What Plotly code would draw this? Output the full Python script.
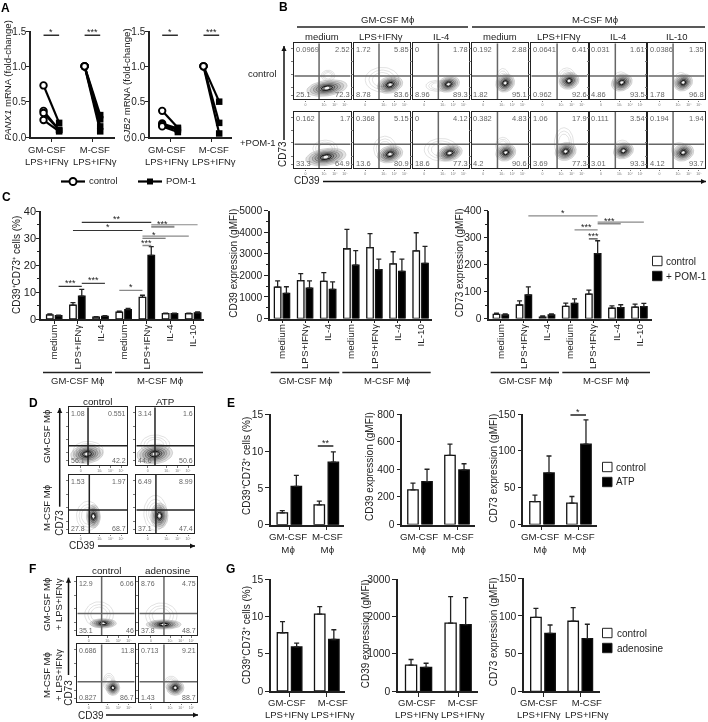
import numpy as np
import plotly.graph_objects as go

W, H = 708, 722
FONT = "Liberation Sans"
INK = "#222222"
GREY = "#8a8a8a"

# ---------- Panel A ----------
a_groups = ["GM-CSF<br>LPS+IFNγ", "M-CSF<br>LPS+IFNγ"]
a1_gm_control = [0.73, 0.37, 0.34, 0.24]
a1_gm_pom = [0.20, 0.10, 0.10, 0.08]
a1_m_control = [1.0, 1.0, 1.0, 1.0]
a1_m_pom = [0.31, 0.25, 0.15, 0.08]
a2_gm_control = [0.37, 0.19, 0.17, 0.15]
a2_gm_pom = [0.13, 0.12, 0.10, 0.07]
a2_m_control = [1.0, 1.0, 1.0]
a2_m_pom = [0.50, 0.20, 0.05]

# ---------- Panel C ----------
c_cats = ["medium", "LPS+IFNγ", "IL-4", "medium", "LPS+IFNγ", "IL-4", "IL-10"]
c1_ctrl = [1.5, 5.1, 0.7, 2.5, 8.0, 2.0, 2.0]
c1_ctrl_top = [1.9, 6.1, 0.9, 2.9, 8.8, 2.2, 2.2]
c1_pom = [1.2, 8.5, 1.0, 3.5, 23.6, 2.0, 2.3]
c1_pom_top = [1.4, 11.0, 1.2, 3.9, 26.8, 2.2, 2.6]
c2_ctrl = [1450, 1750, 1720, 3230, 3280, 2530, 3130]
c2_ctrl_top = [1740, 2080, 2120, 4130, 3930, 3090, 3970]
c2_pom = [1160, 1400, 1350, 2470, 2260, 2180, 2550]
c2_pom_top = [1470, 1740, 1700, 3140, 2750, 2750, 3340]
c3_ctrl = [15, 50, 5, 45, 90, 38, 42]
c3_ctrl_top = [20, 65, 10, 57, 105, 47, 53]
c3_pom = [13, 87, 13, 56, 240, 40, 44]
c3_pom_top = [17, 117, 17, 73, 288, 51, 56]

# ---------- Panel E ----------
e1_ctrl, e1_ctrl_top = [1.6, 2.7], [1.9, 3.2]
e1_atp, e1_atp_top = [5.2, 8.5], [6.7, 9.9]
e2_ctrl, e2_ctrl_top = [250, 500], [300, 582]
e2_atp, e2_atp_top = [310, 395], [400, 440]
e3_ctrl, e3_ctrl_top = [31, 29], [40, 38]
e3_atp, e3_atp_top = [70, 109], [93, 142]

# ---------- Panel G ----------
g1_ctrl, g1_ctrl_top = [7.8, 10.3], [9.3, 11.3]
g1_ade, g1_ade_top = [5.9, 6.9], [6.4, 8.2]
g2_ctrl, g2_ctrl_top = [700, 1820], [850, 2530]
g2_ade, g2_ade_top = [640, 1780], [750, 2500]
g3_ctrl, g3_ctrl_top = [98, 93], [110, 111]
g3_ade, g3_ade_top = [77, 70], [88, 89]

# ---------- Flow plots: quadrant percentages (UL, UR, LL, LR) ----------
b_quads = [
    ["0.0969", "2.52", "25.1", "72.3"], ["1.72", "5.85", "8.78", "83.6"], ["0", "1.78", "8.96", "89.3"],
    ["0.192", "2.88", "1.82", "95.1"], ["0.0641", "6.41", "0.962", "92.6"], ["0.031", "1.61", "4.86", "93.5"],
    ["0.0386", "1.35", "1.78", "96.8"],
    ["0.162", "1.7", "33.3", "64.9"], ["0.368", "5.15", "13.6", "80.9"], ["0", "4.12", "18.6", "77.3"],
    ["0.382", "4.83", "4.2", "90.6"], ["1.06", "17.9", "3.69", "77.3"], ["0.111", "3.54", "3.01", "93.3"],
    ["0.194", "1.94", "4.12", "93.7"],
]
d_quads = [["1.08", "0.551", "56.1", "42.2"], ["3.14", "1.6", "44.6", "50.6"],
           ["1.53", "1.97", "27.8", "68.7"], ["6.49", "8.99", "37.1", "47.4"]]
f_quads = [["12.9", "6.06", "35.1", "46"], ["8.76", "4.75", "37.8", "48.7"],
           ["0.686", "11.8", "0.827", "86.7"], ["0.713", "9.21", "1.43", "88.7"]]

# Population outlines: (cx, cy, rx, ry, tilt) core, then faint outer population
b_core = [(.58, .20, .36, .14, 8), (.64, .26, .23, .15, 12), (.63, .27, .20, .14, 12), (.59, .29, .17, .16, 15),
          (.67, .33, .18, .15, 10), (.57, .30, .19, .15, 15), (.62, .30, .17, .15, 15),
          (.56, .20, .36, .15, 8), (.64, .25, .23, .15, 12), (.65, .27, .23, .14, 12), (.60, .28, .18, .15, 12),
          (.61, .30, .19, .16, 12), (.60, .31, .18, .14, 12), (.62, .28, .19, .15, 12)]
b_faint = [(.60, .42, .12, .10), (.50, .35, .30, .22), (.45, .24, .22, .10), (.55, .35, .12, .20),
           (.63, .40, .15, .16), (.55, .33, .14, .16), (.58, .33, .12, .15),
           (.55, .35, .22, .15), (.55, .35, .20, .22), (.50, .33, .30, .20), (.55, .40, .13, .15),
           (.58, .45, .17, .27), (.58, .36, .14, .14), (.55, .33, .14, .13)]
d_core = [(.31, .19, .28, .16, 5), (.32, .19, .31, .17, 5), (.42, .29, .12, .20, 0), (.40, .30, .15, .22, 0)]
d_faint = [(.33, .25, .26, .16), (.33, .35, .25, .17), (.33, .30, .20, .25), (.33, .35, .20, .30)]
f_core = [(.45, .20, .23, .08, 0), (.42, .18, .30, .08, 0), (.62, .25, .12, .13, 0), (.62, .25, .15, .13, 0)]
f_faint = [(.38, .35, .25, .22), (.38, .33, .27, .22), (.55, .35, .10, .15), (.55, .33, .12, .12)]

fig = go.Figure()
layout = {}
annotations, shapes = [], []
axis_count = [0]


def px(x):
    return x / W


def py(y):
    return 1 - y / H


def T(text, x, y, size=10, color=INK, angle=0, anchor="center", bold=False):
    annotations.append(dict(text=f"<b>{text}</b>" if bold else text, x=px(x), y=py(y), xref="paper", yref="paper",
                            showarrow=False, xanchor=anchor, yanchor="middle", textangle=angle,
                            font=dict(family=FONT, size=size, color=color), borderpad=0, borderwidth=0))


def L(x0, y0, x1, y1, color=INK, width=1.5):
    shapes.append(dict(type="line", xref="paper", yref="paper", x0=px(x0), y0=py(y0), x1=px(x1), y1=py(y1),
                       line=dict(color=color, width=width)))


def arrow(x0, y0, x1, y1):
    L(x0, y0, x1, y1, "#111111", 1.5)
    dx, dy = np.sign(x1 - x0), np.sign(y1 - y0)
    bx, by = x1 - dx * 5, y1 - dy * 5
    pts = [(x1, y1), (bx + dy * 2.6, by + dx * 2.6), (bx - dy * 2.6, by - dx * 2.6)]
    path = "M " + " L ".join(f"{px(a):.5f} {py(b):.5f}" for a, b in pts) + " Z"
    shapes.append(dict(type="path", xref="paper", yref="paper", path=path, fillcolor="#111111", line=dict(width=0)))


def new_axes(x0, x1, ytop, ybot, xrange, yrange, xopts=None, yopts=None):
    axis_count[0] += 1
    i = axis_count[0]
    s = "" if i == 1 else str(i)
    xa = dict(domain=[px(x0), px(x1)], range=xrange, anchor=f"y{s}", showgrid=False, zeroline=False, automargin=False,
              showline=True, linecolor=INK, linewidth=1.5, ticks="outside", ticklen=4, tickwidth=1.3,
              tickcolor=INK, tickfont=dict(family=FONT, size=10, color=INK), fixedrange=True)
    ya = dict(domain=[py(ybot), py(ytop)], range=yrange, anchor=f"x{s}", showgrid=False, zeroline=False, automargin=False,
              showline=True, linecolor=INK, linewidth=1.5, ticks="outside", ticklen=4, tickwidth=1.3,
              tickcolor=INK, tickfont=dict(family=FONT, size=10.3, color=INK), fixedrange=True)
    xa.update(xopts or {})
    ya.update(yopts or {})
    layout[f"xaxis{s}"] = xa
    layout[f"yaxis{s}"] = ya
    return f"x{s}", f"y{s}"


def sig(xa, ya, x0, x1, y, label, color=INK, width=1.4):
    fig.add_trace(go.Scatter(x=[x0, x1], y=[y, y], xaxis=xa, yaxis=ya, mode="lines", cliponaxis=False,
                             line=dict(color=color, width=width), showlegend=False, hoverinfo="skip"))
    if label:
        annotations.append(dict(text=label, x=(x0 + x1) / 2, y=y, xref=xa, yref=ya, showarrow=False,
                                xanchor="center", yanchor="middle", yshift=3,
                                font=dict(family=FONT, size=9, color=INK)))


def bars(xa, ya, groups, ctrl, ctrl_top, other, other_top):
    x = list(range(len(groups)))
    for vals, tops, fill in ((ctrl, ctrl_top, "white"), (other, other_top, "black")):
        fig.add_trace(go.Bar(x=x, y=vals, xaxis=xa, yaxis=ya, marker=dict(color=fill, line=dict(color="#111111", width=1.3)),
                             error_y=dict(type="data", symmetric=False, array=np.subtract(tops, vals).tolist(),
                                          arrayminus=[0] * len(x), color="#222222", thickness=1.3, width=2.5),
                             showlegend=False, hoverinfo="skip"))


def legend_keys(x, y1, y2, lab1, lab2, textx):
    for y, fill, lab in ((y1, "white", lab1), (y2, "black", lab2)):
        shapes.append(dict(type="rect", xref="paper", yref="paper", x0=px(x), x1=px(x + 9.5), y0=py(y - 4.7), y1=py(y + 4.7),
                           fillcolor=fill, line=dict(color="#222222", width=1)))
        T(lab, textx, y, size=10, anchor="left")


def flow(left, right, top, bottom, gx, gy, quad, core, faint, gate_color, size=7.5):
    small = dict(family=FONT, size=3.5, color="#777777")
    xa, ya = new_axes(left, right, top, bottom, [0, 1], [0, 1],
                      dict(mirror=True, linewidth=1.4, ticklen=1.5, tickwidth=.7, tickcolor="#777777",
                           tickvals=[.20, .53, .72, .90], ticktext=["0", "10³", "10⁴", "10⁵"], tickfont=small),
                      dict(mirror=True, linewidth=1.4, ticklen=2, tickwidth=.7, tickcolor="#777777",
                           tickvals=[.07, .21, .45, .67, .91], showticklabels=False))
    t = np.linspace(0, 2 * np.pi, 48)

    def ring(cx, cy, rx, ry, tilt, color, width, fill=None):
        a = np.radians(tilt)
        ex, ey = rx * np.cos(t), ry * np.sin(t)
        fig.add_trace(go.Scatter(x=cx + ex * np.cos(a) - ey * np.sin(a) * .6, y=cy + ex * np.sin(a) + ey * np.cos(a),
                                 xaxis=xa, yaxis=ya, mode="lines", line=dict(color=color, width=width),
                                 fill="toself" if fill else None, fillcolor=fill,
                                 showlegend=False, hoverinfo="skip"))

    fx, fy, frx, fry = faint
    for k in (1, .78, .58):
        ring(fx, fy, frx * k, fry * k, 0, "#c4c4c4", .5)
    cx, cy, rx, ry, tilt = core
    for k, c, w in ((1, "#b0b0b0", .5), (.84, "#999999", .5), (.68, "#808080", .6),
                    (.54, "#606060", .7), (.40, "#404040", .8), (.28, "#111111", 1.0)):
        ring(cx, cy, rx * k, ry * k, tilt, c, w, "rgba(0,0,0,0.11)")
    ring(cx, cy, rx * .1, ry * .1, tilt, "white", 1.0, "white")
    for xs, ys in (([gx, gx], [0, 1]), ([0, 1], [gy, gy])):
        fig.add_trace(go.Scatter(x=xs, y=ys, xaxis=xa, yaxis=ya, mode="lines", line=dict(color=gate_color, width=1.5),
                                 showlegend=False, hoverinfo="skip"))
    grey = "#666666"
    T(quad[0], left + 1.5, top + 6.5, size, grey, anchor="left")
    T(quad[1], right - 1, top + 6.5, size, grey, anchor="right")
    T(quad[2], left + 1.5, bottom - 5, size, grey, anchor="left")
    T(quad[3], right - 1, bottom - 5, size, grey, anchor="right")


# ---------- A ----------
def paired(xa, ya, series_ctrl, series_pom, group):
    for c, p in zip(series_ctrl, series_pom):
        fig.add_trace(go.Scatter(x=[group - .19, group + .19], y=[c, p], xaxis=xa, yaxis=ya, mode="lines",
                                 line=dict(color="black", width=2.2), showlegend=False, hoverinfo="skip", cliponaxis=False))
    fig.add_trace(go.Scatter(x=[group + .19] * len(series_pom), y=series_pom, xaxis=xa, yaxis=ya, mode="markers",
                             marker=dict(symbol="square", size=6.5, color="black"), showlegend=False, hoverinfo="skip", cliponaxis=False))
    fig.add_trace(go.Scatter(x=[group - .19] * len(series_ctrl), y=series_ctrl, xaxis=xa, yaxis=ya, mode="markers",
                             marker=dict(symbol="circle", size=6.5, color="white", line=dict(color="black", width=1.9)),
                             showlegend=False, hoverinfo="skip", cliponaxis=False))


a_xopts = dict(tickvals=[0, 1], showticklabels=False, ticklen=3)
a_yopts = dict(tickvals=[0, .5, 1, 1.5], ticktext=["0.0", "0.5", "1.0", "1.5"], ticklen=3, ticklabelstandoff=-2,
               tickfont=dict(family=FONT, size=10, color=INK))
xa, ya = new_axes(31, 115, 31, 137, [-.495, 1.55], [0, 1.5], a_xopts, a_yopts)
paired(xa, ya, a1_gm_control, a1_gm_pom, 0)
paired(xa, ya, a1_m_control, a1_m_pom, 1)
sig(xa, ya, -.19, .19, 1.44, "*")
sig(xa, ya, .81, 1.19, 1.44, "***")
xa, ya = new_axes(150, 232, 31, 137, [-.485, 1.5], [0, 1.5], a_xopts, a_yopts)
paired(xa, ya, a2_gm_control, a2_gm_pom, 0)
paired(xa, ya, a2_m_control, a2_m_pom, 1)
sig(xa, ya, -.19, .19, 1.44, "*")
sig(xa, ya, .81, 1.19, 1.44, "***")
T("<i>PANX1</i> mRNA (fold-change)", 6.5, 81, 9.6, angle=-90)
T("<i>GJB2</i> mRNA (fold-change)", 127, 85, 9.6, angle=-90)
for x, lab in zip((46.5, 94.7), a_groups):
    T(lab, x, 155, 9.5)
for x, lab in zip((166.7, 214.3), a_groups):
    T(lab, x, 155, 9.5)
L(61, 181.5, 85, 181.5, "black", 2.2)
shapes.append(dict(type="circle", xref="paper", yref="paper", x0=px(69.5), x1=px(76.5), y0=py(178), y1=py(185),
                   fillcolor="white", line=dict(color="black", width=1.9)))
T("control", 89, 181, 9.5, anchor="left")
L(138, 181.5, 162, 181.5, "black", 2.2)
shapes.append(dict(type="rect", xref="paper", yref="paper", x0=px(147), x1=px(153), y0=py(178.5), y1=py(184.5),
                   fillcolor="black", line=dict(color="black", width=0)))
T("POM-1", 166, 181, 9.5, anchor="left")

# ---------- B ----------
b_lefts = [294.3, 354, 413, 472, 531.3, 589.7, 648.3]
b_gx = [.44, .444, .45, .452, .458, .455, .44]
b_rows = [(43.3, 99.3, .417), (112, 168.3, .426)]
for r, (top, bottom, gy) in enumerate(b_rows):
    for c, left in enumerate(b_lefts):
        n = r * 7 + c
        flow(left, left + 56.3, top, bottom, b_gx[c], gy, b_quads[n], b_core[n], b_faint[n], "#666666")
T("GM-CSF Mϕ", 387, 19.5, 9.5)
T("M-CSF Mϕ", 595, 19.5, 9.5)
L(297, 27, 468, 27)
L(472, 27, 705, 27)
for x, lab in zip((322, 381, 441, 500, 559, 618, 676.5),
                  ["medium", "LPS+IFNγ", "IL-4", "medium", "LPS+IFNγ", "IL-4", "IL-10"]):
    T(lab, x, 36.5, 9.5)
T("control", 262, 73.5, 9.5)
T("+POM-1", 258, 142, 9.5)
T("CD73", 283, 154, 10, angle=-90)
arrow(284, 140, 284, 46)
T("CD39", 306.5, 180.5, 10)
arrow(323, 181.5, 706, 181.5)

# ---------- C ----------
c_xopts = dict(tickvals=list(range(7)), ticktext=c_cats, tickangle=-90, ticklen=3, ticklabelstandoff=-3,
               tickfont=dict(family=FONT, size=9.8, color=INK))
xa, ya = new_axes(41, 204.3, 211, 319, [-.57, 6.48], [0, 40],
                  c_xopts, dict(tickvals=[0, 10, 20, 30, 40], ticklen=3, ticklabelstandoff=-2,
                                minor=dict(dtick=5, ticks="outside", ticklen=2, tickwidth=1, tickcolor=INK),
                                tickfont=dict(family=FONT, size=11, color=INK)))
bars(xa, ya, c_cats, c1_ctrl, c1_ctrl_top, c1_pom, c1_pom_top)
sig(xa, ya, 1.19, 4.19, 35.8, "**", "#333333", 1.1)
sig(xa, ya, .81, 3.81, 32.8, "*", "#333333", 1.1)
sig(xa, ya, 4.19, 6.19, 34.9, "", GREY, 1.1)
sig(xa, ya, 4.19, 5.19, 34.2, "***", GREY, 2)
sig(xa, ya, 3.81, 5.81, 30.7, "", GREY, 1.1)
sig(xa, ya, 3.81, 4.81, 29.9, "*", "#555555", 1.2)
sig(xa, ya, 3.81, 4.19, 27.2, "***", GREY, 1.6)
sig(xa, ya, 2.81, 3.81, 10.6, "*", GREY, 1.2)
sig(xa, ya, .19, 1.19, 12.1, "***", "#333333", 1.2)
sig(xa, ya, 1.19, 2.19, 13.2, "***", "#444444", 1.2)
T("CD39⁺CD73⁺ cells (%)", 17, 265, 10, angle=-90)

xa, ya = new_axes(270, 431.7, 210.5, 318.5, [-.52, 6.48], [0, 5000],
                  c_xopts, dict(tickvals=[0, 1000, 2000, 3000, 4000, 5000], minor=dict(dtick=500, ticks="outside", ticklen=2.5, tickwidth=1, tickcolor=INK)))
bars(xa, ya, c_cats, c2_ctrl, c2_ctrl_top, c2_pom, c2_pom_top)
T("CD39 expression (gMFI)", 232.7, 263, 10, angle=-90)

xa, ya = new_axes(489.3, 651.7, 210.5, 318.5, [-.5, 6.53], [0, 400],
                  c_xopts, dict(tickvals=[0, 100, 200, 300, 400], minor=dict(dtick=50, ticks="outside", ticklen=2.5, tickwidth=1, tickcolor=INK)))
bars(xa, ya, c_cats, c3_ctrl, c3_ctrl_top, c3_pom, c3_pom_top)
sig(xa, ya, 1.19, 4.19, 380, "*", GREY, 1.2)
sig(xa, ya, 4.19, 6.19, 357, "", GREY, 1.2)
sig(xa, ya, 4.19, 5.19, 351, "***", GREY, 1.4)
sig(xa, ya, 3.19, 4.19, 328, "***", GREY, 1.2)
sig(xa, ya, 3.81, 4.19, 295, "***", "#444444", 1.2)
T("CD73 expression (gMFI)", 459.3, 263, 10, angle=-90)

for a, b, m, lab in ((43, 112, 77, "GM-CSF Mϕ"), (115, 203, 159.5, "M-CSF Mϕ"),
                     (270.7, 339.3, 305, "GM-CSF Mϕ"), (342.3, 430.7, 387, "M-CSF Mϕ"),
                     (490.7, 559, 525, "GM-CSF Mϕ"), (562.3, 650, 606, "M-CSF Mϕ")):
    L(a, 372.5, b, 372.5)
    T(lab, m, 381, 9.5)
legend_keys(652.5, 261, 276, "control", "+ POM-1", 666)

# ---------- D ----------
d_frames = [(69, 127, 407.3, 465), (136.3, 194, 407.3, 465), (69, 127, 475, 533.3), (136.3, 194, 475, 533.3)]
d_gx, d_gy = [.328, .324, .35, .34], [.335, .335, .40, .40]
for i, (l, r, t, b) in enumerate(d_frames):
    flow(l, r, t, b, d_gx[i], d_gy[i], d_quads[i], d_core[i], d_faint[i], "#222222", size=7)
T("control", 97.3, 401, 9.8)
T("ATP", 165.3, 401, 9.8)
T("GM-CSF Mϕ", 46, 437, 9.5, angle=-90)
T("M-CSF Mϕ", 46, 508, 9.5, angle=-90)
T("CD73", 58.7, 523, 10, angle=-90)
arrow(59.7, 506.7, 59.7, 408)
T("CD39", 82, 545.7, 10)
arrow(98, 546, 195, 546)

# ---------- E ----------
e_xopts = dict(tickvals=[0, 1], showticklabels=False)
xa, ya = new_axes(271, 344.3, 414.3, 524.7, [-.495, 1.486], [0, 15], e_xopts, dict(tickvals=[0, 5, 10, 15]))
bars(xa, ya, [0, 1], e1_ctrl, e1_ctrl_top, e1_atp, e1_atp_top)
sig(xa, ya, .77, 1.19, 10.7, "**")
T("CD39⁺CD73⁺ cells (%)", 246, 466, 10, angle=-90)
xa, ya = new_axes(402.3, 475, 414, 524.5, [-.478, 1.486], [0, 800], e_xopts, dict(tickvals=[0, 200, 400, 600, 800]))
bars(xa, ya, [0, 1], e2_ctrl, e2_ctrl_top, e2_atp, e2_atp_top)
T("CD39 expression (gMFI)", 369, 467, 10, angle=-90)
xa, ya = new_axes(523.3, 596.7, 414, 524.5, [-.505, 1.48], [0, 150], e_xopts, dict(tickvals=[0, 50, 100, 150]))
bars(xa, ya, [0, 1], e3_ctrl, e3_ctrl_top, e3_atp, e3_atp_top)
sig(xa, ya, .77, 1.19, 148.6, "*")
T("CD73 expression (gMFI)", 492.7, 468, 10, angle=-90)
for x, lab in zip((287.7, 327.3, 419, 458.7, 540, 579.3), ["GM-CSF<br>Mϕ", "M-CSF<br>Mϕ"] * 3):
    T(lab, x, 542.7, 9.7)
legend_keys(602.5, 467, 482, "control", "ATP", 616)

# ---------- F ----------
f_frames = [(77.3, 134.7, 576.7, 635), (139.3, 197.3, 576.7, 635), (77.3, 134.7, 644.3, 702.3), (139.3, 197.3, 644.3, 702.3)]
f_gx, f_gy = [.424, .425, .424, .425], [.37, .37, .356, .356]
for i, (l, r, t, b) in enumerate(f_frames):
    flow(l, r, t, b, f_gx[i], f_gy[i], f_quads[i], f_core[i], f_faint[i], "#666666", size=7)
T("control", 106.7, 570.3, 9.8)
T("adenosine", 168.3, 570.3, 9.8)
T("GM-CSF Mϕ<br>+ LPS+IFNγ", 52, 605, 9.5, angle=-90)
T("M-CSF Mϕ<br>+ LPS+IFNγ", 52, 675, 9.5, angle=-90)
T("CD73", 67.7, 693, 10, angle=-90)
arrow(68.5, 675, 68.5, 577.7)
T("CD39", 90.7, 715, 10)
arrow(106, 715, 198, 715)

# ---------- G ----------
xa, ya = new_axes(271, 345, 579, 691, [-.5, 1.49], [0, 15], e_xopts, dict(tickvals=[0, 5, 10, 15]))
bars(xa, ya, [0, 1], g1_ctrl, g1_ctrl_top, g1_ade, g1_ade_top)
T("CD39⁺CD73⁺ cells (%)", 246.7, 635.5, 10, angle=-90)
xa, ya = new_axes(398, 478.3, 579, 691.3, [-.52, 1.51], [0, 3000], e_xopts, dict(tickvals=[0, 1000, 2000, 3000]))
bars(xa, ya, [0, 1], g2_ctrl, g2_ctrl_top, g2_ade, g2_ade_top)
T("CD39 expression (gMFI)", 365.3, 634, 10, angle=-90)
xa, ya = new_axes(524, 600, 578.3, 691.3, [-.51, 1.53], [0, 150], e_xopts, dict(tickvals=[0, 50, 100, 150]))
bars(xa, ya, [0, 1], g3_ctrl, g3_ctrl_top, g3_ade, g3_ade_top)
T("CD73 expression (gMFI)", 493.3, 632, 10, angle=-90)
for x, lab in zip((286.7, 333.3, 416.7, 463.3, 539, 586.7), a_groups * 3):
    T(lab, x, 708.7, 9.5)
legend_keys(602.5, 633, 648, "control", "adenosine", 616.5)

# ---------- Panel letters ----------
for lab, x, y in (("A", 5.5, 8), ("B", 283, 7), ("C", 6, 197), ("D", 33, 403), ("E", 230.5, 403), ("F", 32, 569), ("G", 230.5, 569)):
    T(lab, x, y, 12, "black", bold=True)

fig.update_layout(**layout)
fig.update_layout(width=W, height=H, margin=dict(l=0, r=0, t=0, b=0), paper_bgcolor="white", plot_bgcolor="rgba(0,0,0,0)",
                  barmode="group", bargap=.24, bargroupgap=.26, showlegend=False, annotations=annotations, shapes=shapes,
                  font=dict(family=FONT, size=10, color=INK))
fig.write_html("out.html", post_script="document.body.style.margin='0';document.body.style.filter='blur(0.3px)';",
               config={"displayModeBar": False})
